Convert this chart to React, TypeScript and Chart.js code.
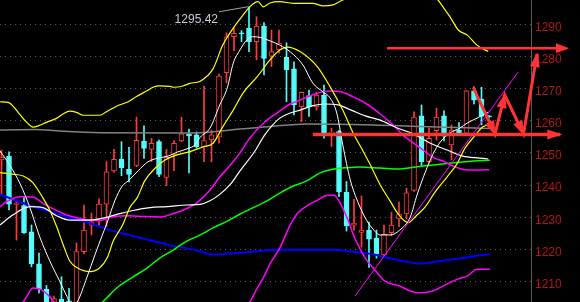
import React, { useEffect, useRef } from "react";
import { Chart, registerables } from "chart.js";

Chart.register(...registerables);

// ---- Candles (index = bar number) ----
const opens = [1247.8, 1249.0, 1234.0, 1233.6, 1225.5, 1215.5, 1207.7, 1203.5, 1204.5, 1204.0, 1203.5, 1219.3, 1227.5, 1229.4, 1234.1, 1244.4, 1248.1, 1244.9, 1246.1, 1253.7, 1251.1, 1253.5, 1242.4, 1249.4, 1253.7, 1255.9, 1255.6, 1251.9, 1254.0, 1255.0, 1274.9, 1286.1, 1287.3, 1288.7, 1284.6, 1289.4, 1280.1, 1282.0, 1279.7, 1276.1, 1264.3, 1267.8, 1264.3, 1268.0, 1256.1, 1256.6, 1237.8, 1227.5, 1225.3, 1225.9, 1223.5, 1218.3, 1225.2, 1229.5, 1231.0, 1238.3, 1261.5, 1247.3, 1256.9, 1261.5, 1252.5, 1257.1, 1256.1, 1269.3, 1266.7, 1261.5];
const highs = [1250.9, 1250.3, 1235.4, 1236.4, 1227.6, 1218.9, 1208.8, 1205.5, 1211.5, 1207.9, 1222.0, 1233.8, 1231.3, 1235.7, 1247.3, 1251.1, 1253.5, 1251.7, 1261.1, 1258.4, 1254.5, 1254.0, 1251.1, 1253.8, 1261.1, 1257.4, 1256.5, 1270.8, 1257.1, 1274.5, 1287.3, 1288.8, 1288.0, 1295.42, 1292.3, 1290.5, 1288.2, 1288.2, 1284.2, 1278.3, 1268.9, 1269.5, 1268.8, 1271.1, 1257.7, 1257.0, 1241.1, 1235.6, 1236.6, 1228.5, 1226.0, 1227.6, 1231.5, 1234.8, 1239.0, 1262.8, 1264.9, 1257.7, 1263.9, 1263.1, 1258.7, 1259.4, 1269.5, 1270.5, 1270.4, 1261.6];
const lows = [1236.9, 1232.3, 1222.9, 1225.0, 1214.6, 1206.5, 1201.0, 1201.0, 1201.0, 1201.5, 1202.0, 1218.6, 1224.5, 1227.1, 1227.1, 1244.0, 1242.9, 1241.0, 1245.7, 1248.3, 1247.3, 1242.6, 1239.8, 1244.5, 1253.5, 1243.8, 1251.5, 1247.3, 1247.2, 1253.0, 1271.8, 1281.8, 1284.6, 1281.5, 1278.9, 1274.2, 1276.8, 1281.0, 1265.9, 1261.8, 1259.7, 1261.3, 1263.3, 1254.6, 1252.0, 1236.4, 1225.7, 1226.0, 1220.8, 1214.4, 1217.3, 1218.0, 1224.2, 1227.1, 1229.4, 1238.0, 1245.9, 1246.8, 1254.0, 1253.7, 1247.8, 1255.8, 1255.8, 1265.2, 1258.7, 1261.0];
const closes = [1248.7, 1234.1, 1234.4, 1225.2, 1215.5, 1207.7, 1203.0, 1204.7, 1203.0, 1203.0, 1219.3, 1226.0, 1228.6, 1234.1, 1244.1, 1248.0, 1245.4, 1243.3, 1253.9, 1251.4, 1253.0, 1243.3, 1248.6, 1253.0, 1255.9, 1255.3, 1251.9, 1253.8, 1255.6, 1273.9, 1286.1, 1287.2, 1287.0, 1284.6, 1289.4, 1279.4, 1281.5, 1284.1, 1275.8, 1264.9, 1268.8, 1264.3, 1268.0, 1256.2, 1256.5, 1237.9, 1227.3, 1228.2, 1226.0, 1223.2, 1218.6, 1224.7, 1227.6, 1231.0, 1237.6, 1261.1, 1247.3, 1254.5, 1261.1, 1255.3, 1257.1, 1256.3, 1269.3, 1266.4, 1261.3, 1261.1];

// ---- Indicator lines (x = bar index, y = price) ----
const upperBandX = [-0.2, 0.9, 1.6, 2.5, 3.4, 4.2, 4.9, 6.0, 7.4, 8.2, 9.1, 10.0, 10.9, 13.1, 14.0, 15.4, 16.9, 18.0, 19.4, 20.2, 21.1, 22.5, 22.9, 24.2, 25.1, 26.5, 28.2, 29.5, 30.9, 31.9, 33.1, 34.2, 34.9, 35.8, 37.1, 38.9, 41.5, 42.9, 44.2, 45.5, 49.0, 53.0, 56.0, 58.2, 58.7, 59.8, 60.9, 62.1, 63.4, 64.9];
const upperBandY = [1265.9, 1265.7, 1264.4, 1261.8, 1259.4, 1258.0, 1258.4, 1259.5, 1260.8, 1262.1, 1263.0, 1262.6, 1261.7, 1261.7, 1262.8, 1264.6, 1265.9, 1267.5, 1269.3, 1270.4, 1270.8, 1270.7, 1270.4, 1270.8, 1271.6, 1272.3, 1276.1, 1283.5, 1288.8, 1291.9, 1295.4, 1297.0, 1295.4, 1296.6, 1297.0, 1296.5, 1296.5, 1295.7, 1296.0, 1297.5, 1300.0, 1301.5, 1300.5, 1297.5, 1295.9, 1292.3, 1288.2, 1286.6, 1283.5, 1281.5];

const yellowX = [-0.2, 1.5, 2.9, 4.2, 5.5, 6.5, 7.4, 8.2, 9.1, 10.1, 11.8, 13.1, 14.1, 14.9, 16.2, 17.1, 18.1, 19.1, 20.5, 21.8, 23.4, 25.1, 26.9, 28.2, 29.5, 30.9, 32.2, 34.1, 35.8, 37.1, 38.1, 39.8, 42.1, 43.8, 45.5, 46.9, 48.2, 49.1, 50.5, 51.8, 52.9, 54.2, 55.4, 56.5, 57.8, 59.4, 60.7, 61.8, 63.1, 64.1, 64.9];
const yellowY = [1243.9, 1243.4, 1242.8, 1240.7, 1236.1, 1231.9, 1226.8, 1221.6, 1216.4, 1214.3, 1213.1, 1214.3, 1217.4, 1222.6, 1227.8, 1233.0, 1236.1, 1241.3, 1245.3, 1247.8, 1249.4, 1250.4, 1251.9, 1253.0, 1258.1, 1263.3, 1268.6, 1273.7, 1278.9, 1282.0, 1282.9, 1281.5, 1276.8, 1270.6, 1263.3, 1256.1, 1250.6, 1246.6, 1240.0, 1235.1, 1231.0, 1228.3, 1230.7, 1233.2, 1237.8, 1242.5, 1246.5, 1251.5, 1255.3, 1258.0, 1258.7];

const whiteFastX = [-0.2, 1.1, 2.5, 3.8, 5.1, 6.5, 7.8, 8.7, 9.4, 10.1, 11.4, 12.5, 13.4, 14.2, 15.1, 16.1, 16.9, 18.2, 19.5, 20.9, 22.2, 23.5, 24.9, 25.8, 26.5, 27.8, 29.1, 30.1, 30.9, 31.8, 32.7, 33.5, 34.5, 35.8, 37.1, 38.5, 40.2, 41.5, 42.9, 43.8, 44.7, 45.5, 46.5, 47.4, 48.5, 49.4, 50.5, 51.8, 53.1, 54.5, 55.4, 56.5, 57.5, 58.5, 59.8, 61.1, 62.1, 63.4, 64.9];
const whiteFastY = [1250.6, 1246.2, 1240.3, 1232.9, 1223.9, 1216.1, 1209.9, 1205.5, 1202.5, 1203.7, 1211.4, 1218.6, 1224.2, 1229.1, 1235.1, 1239.7, 1241.3, 1244.4, 1247.2, 1248.4, 1249.0, 1250.3, 1251.4, 1252.5, 1254.9, 1257.7, 1264.9, 1270.2, 1277.9, 1282.0, 1285.1, 1286.1, 1285.9, 1284.8, 1283.5, 1281.4, 1277.3, 1271.7, 1268.9, 1267.1, 1262.4, 1252.5, 1241.6, 1235.4, 1229.8, 1226.7, 1224.5, 1224.5, 1226.0, 1230.1, 1236.9, 1244.0, 1249.5, 1253.4, 1256.2, 1257.7, 1259.3, 1260.8, 1262.7];

const whiteSlowX = [-0.2, 1.5, 3.8, 5.5, 7.4, 9.1, 11.4, 13.1, 15.4, 17.5, 19.8, 22.1, 24.7, 26.5, 27.8, 29.1, 30.5, 31.8, 33.8, 35.1, 37.1, 38.5, 39.8, 41.4, 43.1, 44.9, 46.7, 48.5, 50.5, 52.7, 54.9, 57.1, 59.4, 61.5, 63.8, 64.9];
const whiteSlowY = [1227.6, 1230.7, 1233.3, 1233.0, 1230.4, 1229.1, 1229.1, 1229.5, 1230.9, 1232.1, 1233.0, 1233.3, 1233.8, 1234.0, 1235.1, 1237.1, 1240.2, 1244.4, 1250.6, 1255.6, 1260.8, 1262.4, 1263.3, 1264.6, 1265.2, 1264.9, 1263.2, 1261.5, 1260.2, 1257.8, 1255.9, 1253.1, 1250.9, 1249.0, 1248.4, 1248.1];

const magentaMidX = [-0.2, 0.7, 2.5, 4.2, 5.5, 6.9, 8.7, 10.5, 12.2, 13.1, 14.7, 16.9, 19.1, 21.4, 22.7, 24.1, 25.8, 26.5, 27.8, 29.1, 30.5, 31.8, 33.1, 35.1, 37.1, 38.5, 39.8, 41.8, 43.8, 45.1, 46.9, 48.7, 50.5, 52.2, 53.5, 54.9, 56.2, 57.5, 59.1, 60.5, 62.1, 63.8, 65.0];
const magentaMidY = [1233.2, 1234.9, 1236.4, 1236.3, 1234.4, 1232.6, 1230.7, 1229.6, 1229.0, 1229.0, 1230.1, 1230.5, 1230.2, 1230.1, 1231.0, 1232.1, 1234.1, 1235.4, 1238.5, 1242.5, 1246.2, 1250.0, 1254.6, 1259.6, 1263.0, 1265.2, 1266.4, 1268.3, 1269.2, 1269.1, 1267.4, 1265.2, 1262.1, 1258.7, 1255.6, 1253.1, 1250.9, 1248.7, 1247.2, 1245.6, 1244.7, 1244.7, 1244.8];

const magentaLowX = [1.5, 2.9, 3.4, 4.2, 5.3, 6.5, 7.3, 10.0, 18.0, 26.0, 31.0, 33.1, 34.1, 34.9, 35.8, 37.1, 38.5, 39.5, 40.9, 42.2, 43.5, 44.3, 45.3, 46.2, 47.1, 48.5, 49.8, 51.1, 53.1, 54.5, 55.8, 57.5, 59.4, 60.7, 62.1, 63.4, 65.1];
const magentaLowY = [1199.0, 1203.7, 1205.5, 1208.0, 1207.5, 1205.1, 1202.7, 1198.0, 1194.0, 1195.0, 1200.0, 1203.7, 1208.0, 1211.1, 1215.5, 1220.4, 1227.6, 1231.3, 1233.8, 1235.4, 1236.8, 1236.8, 1233.8, 1229.1, 1223.5, 1217.3, 1213.6, 1210.2, 1208.6, 1207.1, 1206.5, 1207.1, 1209.2, 1210.7, 1211.7, 1213.8, 1213.8];

const greenX = [-0.2, 6.0, 10.0, 13.5, 15.4, 17.5, 19.4, 21.1, 22.9, 24.7, 26.5, 28.2, 30.1, 31.8, 33.5, 35.4, 37.1, 38.9, 40.7, 42.5, 44.2, 46.1, 47.8, 50.5, 53.1, 54.5, 56.2, 58.5, 60.7, 62.9, 65.1];
const greenY = [1188.0, 1193.0, 1198.0, 1203.7, 1208.1, 1211.4, 1214.2, 1217.3, 1219.8, 1222.6, 1224.5, 1226.7, 1228.8, 1231.0, 1232.9, 1235.1, 1237.5, 1239.7, 1241.3, 1243.8, 1244.9, 1245.4, 1245.6, 1245.3, 1245.0, 1245.4, 1245.9, 1246.5, 1247.0, 1247.5, 1247.7];

const blueX = [-0.2, 1.5, 3.4, 5.1, 6.9, 8.7, 10.5, 12.2, 14.1, 15.8, 17.5, 19.4, 21.1, 22.9, 24.7, 26.5, 28.2, 30.1, 32.2, 34.5, 36.7, 39.8, 44.2, 46.1, 47.8, 49.5, 51.4, 53.1, 55.8, 58.5, 61.1, 63.4, 65.1];
const blueY = [1237.1, 1235.6, 1234.0, 1232.7, 1231.4, 1230.1, 1229.0, 1227.8, 1226.3, 1225.2, 1224.2, 1223.1, 1222.1, 1221.1, 1220.4, 1219.4, 1218.4, 1218.7, 1219.0, 1219.5, 1219.9, 1219.9, 1219.9, 1219.5, 1219.0, 1218.5, 1217.4, 1216.6, 1215.6, 1216.4, 1217.2, 1218.0, 1218.5];

const grayX = [-0.2, 4.5, 7.8, 13.1, 23.8, 26.5, 31.8, 35.8, 40.7, 49.5, 55.8, 65.1];
const grayY = [1257.1, 1257.3, 1256.8, 1256.3, 1256.2, 1256.3, 1257.4, 1258.2, 1259.0, 1258.7, 1258.2, 1257.6];

// ---- Drawn annotations ----
const trendX = [47.13, 68.87];
const trendY = [1205.5, 1275.1];
const topArrowX = [51.4, 75.4];
const topArrowY = [1282.5, 1282.5];
const lowArrowX = [41.5, 74.5];
const lowArrowY = [1255.7, 1255.7];
const zigX = [62.9, 65.8, 67.1, 69.6, 71.4];
const zigY = [1270.4, 1255.9, 1268.0, 1255.9, 1280.7];

const yTicks = [1210, 1220, 1230, 1240, 1250, 1260, 1270, 1280, 1290];

const RED = "#ff3c3c";
const CYAN = "#54fcfc";
const ARROW = "#ff3333";

const pts = (xs: number[], ys: number[]) => xs.map((x, k) => ({ x, y: ys[k] }));

const lineDs = (label: string, xs: number[], ys: number[], color: string, width: number) => ({
  type: "line",
  label,
  data: pts(xs, ys),
  borderColor: color,
  borderWidth: width,
  pointRadius: 0,
  cubicInterpolationMode: "monotone",
  fill: false,
  order: 5,
});

const arrowDs = (label: string, xs: number[], ys: number[], width: number) => ({
  type: "line",
  label,
  data: pts(xs, ys),
  borderColor: ARROW,
  borderWidth: width,
  pointRadius: 0,
  tension: 0,
  fill: false,
  clip: false,
  order: 0,
});

const marksPlugin = {
  id: "marks",
  afterDatasetsDraw(chart: any) {
    const { ctx } = chart;
    const sx = chart.scales.x;
    const sy = chart.scales.y;
    const P = (i: number, v: number) => [sx.getPixelForValue(i), sy.getPixelForValue(v)];
    ctx.save();
    // highest high marker
    let hi = 0;
    highs.forEach((h, i) => {
      if (h > highs[hi]) hi = i;
    });
    const [hx, hy] = P(hi, highs[hi]);
    ctx.strokeStyle = "#a0a0a0";
    ctx.lineWidth = 1;
    ctx.beginPath();
    ctx.moveTo(hx - 1, hy);
    ctx.lineTo(hx - 30, hy + 5);
    ctx.stroke();
    ctx.font = '12px "Liberation Sans", Arial, sans-serif';
    ctx.fillStyle = "#c4ccd6";
    ctx.textAlign = "right";
    ctx.textBaseline = "middle";
    ctx.fillText(highs[hi].toFixed(2), hx - 31, hy + 13);

    // arrow heads
    const head = (ax: number, ay: number, bx: number, by: number, len: number, half: number) => {
      const [x0, y0] = P(ax, ay);
      const [x1, y1] = P(bx, by);
      const a = Math.atan2(y1 - y0, x1 - x0);
      const c = Math.cos(a);
      const s = Math.sin(a);
      ctx.beginPath();
      ctx.moveTo(x1 + 2 * c, y1 + 2 * s);
      ctx.lineTo(x1 - len * c + half * s, y1 - len * s - half * c);
      ctx.lineTo(x1 - len * c - half * s, y1 - len * s + half * c);
      ctx.closePath();
      ctx.fill();
    };
    ctx.fillStyle = ARROW;
    head(topArrowX[0], topArrowY[0], topArrowX[1], topArrowY[1], 11, 5);
    head(lowArrowX[0], lowArrowY[0], lowArrowX[1], lowArrowY[1], 13, 5);
    for (let k = 1; k < zigX.length; k++) {
      head(zigX[k - 1], zigY[k - 1], zigX[k], zigY[k], 13, 5);
    }
    ctx.restore();
  },
};

export default function App() {
  const ref = useRef<HTMLCanvasElement | null>(null);

  useEffect(() => {
    document.body.style.margin = "0";
    document.body.style.background = "#000";
    const idx = opens.map((_, i) => i);
    const up = idx.map((i) => closes[i] >= opens[i]);
    const chart = new Chart(ref.current as HTMLCanvasElement, {
      type: "line",
      data: {
        datasets: [
          arrowDs("topArrow", topArrowX, topArrowY, 2.5),
          arrowDs("lowArrow", lowArrowX, lowArrowY, 3.5),
          arrowDs("zigzag", zigX, zigY, 3),
          {
            type: "line",
            label: "trend",
            data: pts(trendX, trendY),
            borderColor: "#ff00ff",
            borderWidth: 1,
            pointRadius: 0,
            tension: 0,
            clip: false,
            order: 1,
          },
          lineDs("upper", upperBandX, upperBandY, "#ffff00", 1.2),
          lineDs("yellow", yellowX, yellowY, "#ffff00", 1.2),
          lineDs("whiteFast", whiteFastX, whiteFastY, "#ffffff", 1),
          lineDs("whiteSlow", whiteSlowX, whiteSlowY, "#ffffff", 1.2),
          lineDs("magentaMid", magentaMidX, magentaMidY, "#ff00ff", 1.5),
          lineDs("magentaLow", magentaLowX, magentaLowY, "#ff00ff", 1.5),
          lineDs("green", greenX, greenY, "#00ff00", 1.5),
          lineDs("blue", blueX, blueY, "#0000ff", 2),
          lineDs("gray", grayX, grayY, "#808080", 1.5),
          {
            type: "bar",
            label: "body",
            data: idx.map((i) => ({ x: i, y: [opens[i], closes[i]] })),
            backgroundColor: idx.map((i) => (up[i] ? "#000000" : CYAN)),
            borderColor: idx.map((i) => (up[i] ? RED : CYAN)),
            borderWidth: 1,
            borderSkipped: false,
            barThickness: 5,
            minBarLength: 1,
            grouped: false,
            order: 10,
          },
          {
            type: "bar",
            label: "wick",
            data: idx.map((i) => ({ x: i, y: [lows[i], highs[i]] })),
            backgroundColor: idx.map((i) => (up[i] ? RED : CYAN)),
            borderWidth: 0,
            barThickness: 1,
            grouped: false,
            order: 11,
          },
        ],
      } as any,
      options: {
        animation: false,
        responsive: true,
        maintainAspectRatio: false,
        devicePixelRatio: 1,
        events: [],
        layout: { padding: 0 },
        plugins: { legend: { display: false }, tooltip: { enabled: false } },
        scales: {
          x: {
            type: "linear",
            min: -0.2,
            max: 70.6,
            display: false,
            offset: false,
            grid: { display: false },
          },
          y: {
            type: "linear",
            position: "right",
            min: 1203.66,
            max: 1297.52,
            afterFit: (s: any) => {
              s.width = 49;
              s.paddingTop = 0;
              s.paddingBottom = 0;
            },
            afterBuildTicks: (s: any) => {
              s.ticks = yTicks.map((v) => ({ value: v }));
            },
            ticks: {
              color: "#b81414",
              font: { size: 12, family: '"Liberation Sans", Arial, sans-serif' },
              padding: 4,
              labelOffset: 3,
              autoSkip: false,
              callback: (v: any) => String(v),
            },
            grid: { color: "#5c5c5c", lineWidth: 1, drawTicks: false },
            border: { display: true, color: "#5a5a5a", dash: [1, 4] },
          },
        },
      } as any,
      plugins: [marksPlugin],
    });
    return () => chart.destroy();
  }, []);

  return (
    <div style={{ width: 580, height: 302, background: "#000", position: "relative" }}>
      <canvas ref={ref} />
    </div>
  );
}
